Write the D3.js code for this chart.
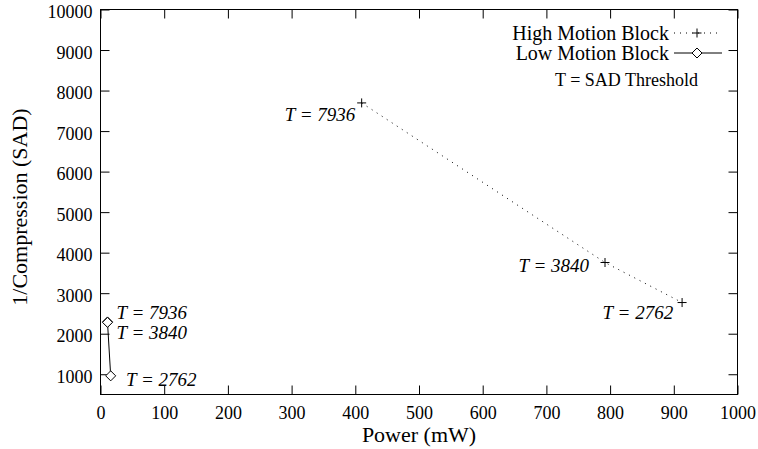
<!DOCTYPE html>
<html>
<head>
<meta charset="utf-8">
<script src="https://cdn.jsdelivr.net/npm/d3@7"></script>
<style>
  body { margin: 0; background: #fff; }
</style>
</head>
<body>
<svg></svg>
<script>
const width = 758;
const height = 449;
const margin = { top: 9.5, right: 20.5, bottom: 54.5, left: 100.5 };
const innerWidth = width - margin.left - margin.right;
const innerHeight = height - margin.top - margin.bottom;
const serif = '"Liberation Serif"';

// data
const highPower = [410, 792, 913];
const highSad = [7695, 3757, 2769];
const highLabels = ['T = 7936', 'T = 3840', 'T = 2762'];
const highLabelX = [400, 767, 899];
const highLabelY = [7417, 3690, 2537];

const lowPower = [11, 11, 16];
const lowSad = [2291, 2280, 960];
const lowLabels = ['T = 7936', 'T = 3840', 'T = 2762'];
const lowLabelX = [25, 25, 40];
const lowLabelY = [2530, 2044, 877];

const xTicks = [0, 100, 200, 300, 400, 500, 600, 700, 800, 900, 1000];
const yTicks = [1000, 2000, 3000, 4000, 5000, 6000, 7000, 8000, 9000, 10000];

const svg = d3.select('svg')
	.attr('width', width)
	.attr('height', height)
	.style('font-family', serif);

const xScale = d3.scaleLinear().domain([0, 1000]).range([0, innerWidth]);
const yScale = d3.scaleLinear().domain([500, 10000]).range([innerHeight, 0]);

const g = svg.append('g')
	.attr('transform', `translate(${margin.left}, ${margin.top})`);

const fmt = d3.format('d');
const styleAxis = a => {
	a.select('.domain').remove();
	a.style('font-family', serif).attr('font-size', 18);
	a.selectAll('text').attr('fill', '#000').style('font-family', serif);
	a.selectAll('line').attr('stroke', '#000');
};
// mirror axes only carry tick marks
const ticksOnly = a => {
	a.select('.domain').remove();
	a.selectAll('text').remove();
	a.selectAll('line').attr('stroke', '#000');
};

// axes, ticks pointing inward like gnuplot
g.append('g')
	.attr('transform', `translate(0, ${innerHeight})`)
	.call(d3.axisBottom(xScale).tickValues(xTicks).tickFormat(fmt).tickSize(-9).tickSizeOuter(0).tickPadding(12))
	.call(styleAxis);

g.append('g')
	.call(d3.axisTop(xScale).tickValues(xTicks).tickSize(-9).tickSizeOuter(0))
	.call(ticksOnly);

g.append('g')
	.call(d3.axisLeft(yScale).tickValues(yTicks).tickFormat(fmt).tickSize(-9).tickSizeOuter(0).tickPadding(8))
	.call(styleAxis)
	.selectAll('text').attr('dy', '0.45em');

g.append('g')
	.attr('transform', `translate(${innerWidth}, 0)`)
	.call(d3.axisRight(yScale).tickValues(yTicks).tickSize(-9).tickSizeOuter(0))
	.call(ticksOnly);

g.append('rect')
	.attr('width', innerWidth)
	.attr('height', innerHeight)
	.attr('fill', 'none')
	.attr('stroke', '#000');

// axis titles
svg.append('text')
	.attr('x', margin.left + innerWidth / 2)
	.attr('y', 442)
	.attr('text-anchor', 'middle')
	.attr('font-size', 22)
	.style('font-family', serif)
	.text('Power (mW)');

svg.append('text')
	.attr('transform', `translate(27, ${margin.top + innerHeight / 2 + 5}) rotate(-90)`)
	.attr('text-anchor', 'middle')
	.attr('font-size', 22)
	.style('font-family', serif)
	.text('1/Compression (SAD)');

// lines
const line = d3.line().x(d => xScale(d[0])).y(d => yScale(d[1]));
const high = highPower.map((p, i) => [p, highSad[i]]);
const low = lowPower.map((p, i) => [p, lowSad[i]]);

g.append('path')
	.datum(high)
	.attr('d', line)
	.attr('fill', 'none')
	.attr('stroke', '#000')
	.attr('stroke-dasharray', '1 5');

g.append('path')
	.datum(low)
	.attr('d', line)
	.attr('fill', 'none')
	.attr('stroke', '#000');

const drawPlus = (sel, x, y) => sel.append('path')
	.attr('d', `M${x - 4.5},${y}H${x + 4.5}M${x},${y - 4.5}V${y + 4.5}`)
	.attr('stroke', '#000')
	.attr('fill', 'none');
const drawDiamond = (sel, x, y) => sel.append('path')
	.attr('d', `M${x},${y - 5}L${x + 5},${y}L${x},${y + 5}L${x - 5},${y}Z`)
	.attr('stroke', '#000')
	.attr('fill', '#fff');

high.forEach(d => drawPlus(g, xScale(d[0]), yScale(d[1])));
low.forEach(d => drawDiamond(g, xScale(d[0]), yScale(d[1])));

// point labels
g.selectAll('.hl').data(highLabels).enter().append('text')
	.attr('x', (d, i) => xScale(highLabelX[i]))
	.attr('y', (d, i) => yScale(highLabelY[i]))
	.attr('dy', '0.35em')
	.attr('text-anchor', 'end')
	.attr('font-size', 19)
	.style('font-family', serif)
	.style('font-style', 'italic')
	.text(d => d);

g.selectAll('.ll').data(lowLabels).enter().append('text')
	.attr('x', (d, i) => xScale(lowLabelX[i]))
	.attr('y', (d, i) => yScale(lowLabelY[i]))
	.attr('dy', '0.35em')
	.attr('text-anchor', 'start')
	.attr('font-size', 19)
	.style('font-family', serif)
	.style('font-style', 'italic')
	.text(d => d);

// legend
const legend = svg.append('g').style('font-family', serif);
const keyX = 669;
legend.append('text').attr('x', keyX).attr('y', 33).attr('dy', '0.35em')
	.attr('text-anchor', 'end').attr('font-size', 20).text('High Motion Block');
legend.append('line').attr('x1', 674).attr('x2', 722).attr('y1', 33).attr('y2', 33)
	.attr('stroke', '#000').attr('stroke-dasharray', '1 5');
drawPlus(legend, 697, 33);

legend.append('text').attr('x', keyX).attr('y', 53).attr('dy', '0.35em')
	.attr('text-anchor', 'end').attr('font-size', 20).text('Low Motion Block');
legend.append('line').attr('x1', 674).attr('x2', 722).attr('y1', 53).attr('y2', 53)
	.attr('stroke', '#000');
drawDiamond(legend, 697, 53);

legend.append('text').attr('x', 698).attr('y', 80).attr('dy', '0.35em')
	.attr('text-anchor', 'end').attr('font-size', 18).text('T = SAD Threshold');
</script>
</body>
</html>
